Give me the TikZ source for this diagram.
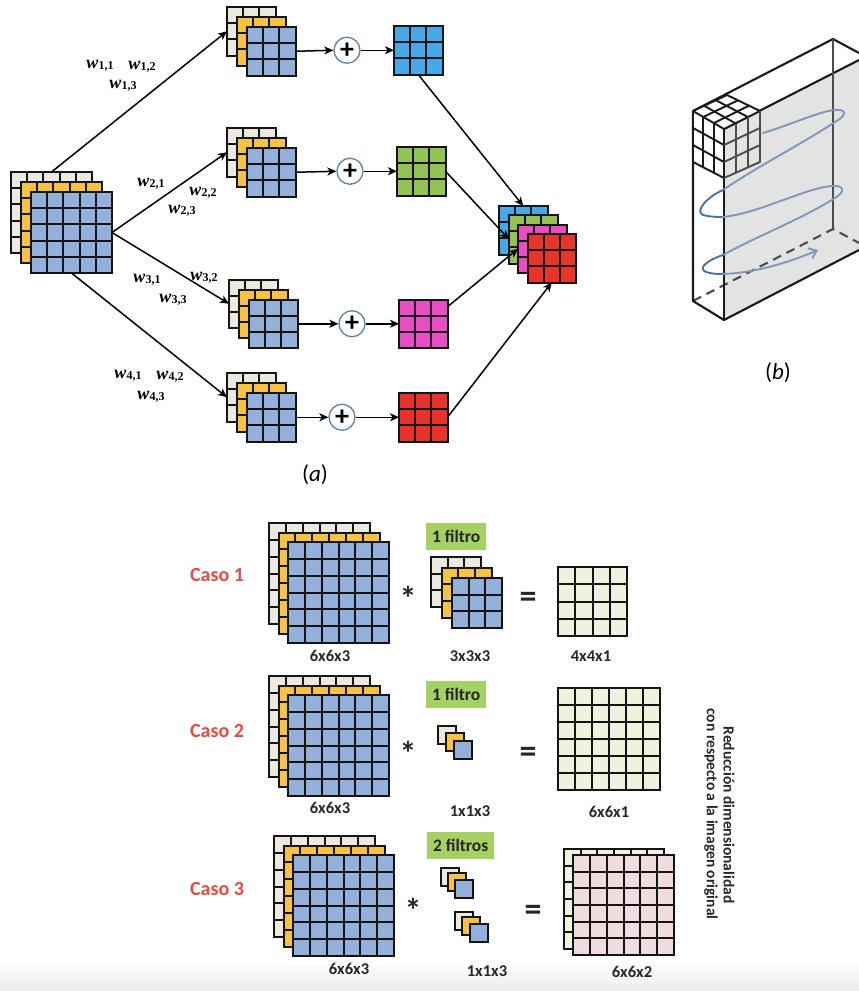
\documentclass[tikz,border=0pt]{standalone}
\usepackage{fontspec}
\setmainfont{Carlito}
\newfontfamily\timesf{Liberation Serif}
\usetikzlibrary{arrows.meta}
\definecolor{cgray}{HTML}{EBE9DF}
\definecolor{cyel}{HTML}{F5C242}
\definecolor{cblue}{HTML}{94AFD9}
\definecolor{cbluer}{HTML}{46A8E6}
\definecolor{cgreenr}{HTML}{93C353}
\definecolor{cmag}{HTML}{E94DC3}
\definecolor{cred}{HTML}{E8332A}
\definecolor{cpale}{HTML}{EEF2DF}
\definecolor{cpink}{HTML}{F0DCDF}
\definecolor{cbadge}{HTML}{A5D164}
\definecolor{ccaso}{HTML}{EA4A3F}
\definecolor{cspiral}{HTML}{7F97B8}
\definecolor{cspirald}{HTML}{4F719F}
\definecolor{cring}{HTML}{5F80AE}
\tikzset{
  gridbox/.style={draw=black!92,line width=2pt,inner sep=0pt,outer sep=0pt,anchor=north west},
  gridline/.style={draw=black!92,line width=2pt},
  arr/.style={-{Stealth[length=9pt,width=8pt,inset=2.5pt]},line width=1.5pt,black},
  plusnode/.style={circle,draw=cring,line width=1.3pt,fill=white,minimum size=26pt,inner sep=0pt,font=\fontsize{28}{28}\selectfont\bfseries},
  wlabel/.style={inner sep=0pt,anchor=center},
  casolabel/.style={text=ccaso,font=\fontsize{20}{20}\selectfont\bfseries,inner sep=0pt},
  dimlabel/.style={font=\fontsize{16.5}{16.5}\selectfont\bfseries,text=black!85,inner sep=0pt},
  rotlabel/.style={font=\fontsize{15.5}{15.5}\selectfont\bfseries,text=black!85,inner sep=0pt,rotate=-90},
  badge/.style={fill=cbadge,inner sep=0pt,font=\fontsize{17.5}{17.5}\selectfont\bfseries,text=black!85,anchor=north west},
  oplabel/.style={font=\fontsize{34}{34}\selectfont\bfseries,text=black!85,inner sep=0pt},
  panellabel/.style={font=\fontsize{23}{23}\selectfont,inner sep=0pt},
  edge3d/.style={line width=2.1pt,black!90,line join=round},
  cubeedge/.style={line width=1.9pt,black!90,line join=round},
  cubeside/.style={line width=1.9pt,black!70,line join=round},
  spiral/.style={line width=1.9pt,cspiral,line cap=round},
  spirald/.style={line width=1.9pt,cspirald,line cap=round},
}
% name x y w h n fill
\newcommand{\gridb}[7]{%
  \node[gridbox,fill=#7,minimum width=#4pt,minimum height=#5pt] (#1) at (#2,#3) {};
  \pgfmathtruncatemacro{\nm}{#6-1}
  \foreach \k in {1,...,\nm}{
    \draw[gridline] ({#2+#4*\k/#6},#3) -- ({#2+#4*\k/#6},{#3+#5});
    \draw[gridline] (#2,{#3+#5*\k/#6}) -- ({#2+#4},{#3+#5*\k/#6});
  }
}
% name x y step size n : gray, yellow, blue layers
\newcommand{\stackc}[6]{%
  \gridb{#1a}{#2}{#3}{#5}{#5}{#6}{cgray}
  \gridb{#1b}{#2+#4}{#3+#4}{#5}{#5}{#6}{cyel}
  \gridb{#1c}{#2+2*#4}{#3+2*#4}{#5}{#5}{#6}{cblue}
}
\newcommand{\wl}[1]{{\timesf{\fontsize{18}{18}\selectfont\bfseries\itshape w}{\fontsize{12}{12}\selectfont\bfseries\raisebox{-1pt}{#1}}}}
\begin{document}
\begin{tikzpicture}[x=1pt,y=-1pt]
\useasboundingbox (0,0) rectangle (859,991);
\shade[top color=white,bottom color=black!7] (0,958) rectangle (859,991);
% ---- panel a
\stackc{big}{11}{172}{10}{81}{5}
\stackc{ga}{227}{7}{10}{48.5}{3}
\stackc{gb}{227}{128}{10}{48.5}{3}
\stackc{gc}{229}{279.5}{10}{48.5}{3}
\stackc{gd}{227}{373}{10}{48.5}{3}
\node[plusnode] (pa) at (347,50.25) {+};
\node[plusnode] (pb) at (350,171.25) {+};
\node[plusnode] (pc) at (352,323.75) {+};
\node[plusnode] (pd) at (342,417.25) {+};
\gridb{ra}{394}{26}{48.5}{48.5}{3}{cbluer}
\gridb{rb}{397}{147}{48.5}{48.5}{3}{cgreenr}
\gridb{rc}{399}{299.5}{48.5}{48.5}{3}{cmag}
\gridb{rd}{399}{393}{48.5}{48.5}{3}{cred}
\gridb{sa}{499}{206}{48.5}{48.5}{3}{cbluer}
\gridb{sb}{509}{215}{48.5}{48.5}{3}{cgreenr}
\gridb{sc}{518}{224.5}{48.5}{48.5}{3}{cmag}
\gridb{sd}{527.5}{234}{48.5}{48.5}{3}{cred}
\draw[arr] (biga.north) -- (gaa.west);
\draw[arr] (bigc.east) -- (gba.west);
\draw[arr] (bigc.east) -- (gca.west);
\draw[arr] (bigc.south) -- (gda.west);
\draw[arr] (gac.east) -- (pa.west);
\draw[arr] (gbc.east) -- (pb.west);
\draw[arr] (gcc.east) -- (pc.west);
\draw[arr] (gdc.east) -- (pd.west);
\draw[arr] (pa.east) -- (ra.west);
\draw[arr] (pb.east) -- (rb.west);
\draw[arr] (pc.east) -- (rc.west);
\draw[arr] (pd.east) -- (rd.west);
\draw[arr] (ra.south) -- (sa.north);
\draw[arr] (rb.east) -- (sb.west);
\draw[arr] (rc.35) -- (sc.west);
\draw[arr] (rd.east) -- (sd.south);
\node[wlabel] (w11) at (100,66) {\wl{1,1}};
\node[wlabel] (w12) at (142,67) {\wl{1,2}};
\node[wlabel] (w13) at (123,86) {\wl{1,3}};
\node[wlabel] (w21) at (151,184) {\wl{2,1}};
\node[wlabel] (w22) at (203,193) {\wl{2,2}};
\node[wlabel] (w23) at (182,211) {\wl{2,3}};
\node[wlabel] (w31) at (147,280) {\wl{3,1}};
\node[wlabel] (w32) at (204,278) {\wl{3,2}};
\node[wlabel] (w33) at (173,300) {\wl{3,3}};
\node[wlabel] (w41) at (128,376) {\wl{4,1}};
\node[wlabel] (w42) at (170,377) {\wl{4,2}};
\node[wlabel] (w43) at (151,397) {\wl{4,3}};
\node[panellabel] (la) at (315,475) {(\textit{a})};
\node[panellabel] (lb) at (778,373) {(\textit{b})};
% ---- panel b
\fill[black!11] (724,129) -- (859,60) -- (859,250) -- (724,320) -- cycle;
\draw[edge3d] (693,111) -- (833,39) -- (859,53);
\draw[edge3d] (724,129) -- (859,60);
\draw[edge3d,black!70] (833,39) -- (833,229);
\draw[edge3d,black!70,dash pattern=on 9pt off 6pt] (693,301) -- (833,229) -- (859,243);
\draw[edge3d] (693,111) -- (693,301) -- (724,320) -- (859,250);
\draw[edge3d] (724,129) -- (724,320);
% spiral
\draw[spiral] (763,133) .. controls (790,125) and (820,111) .. (835,110) .. controls (848,109) and (846,116) .. (835,122) .. controls (800,145) and (755,168) .. (723,190);
\draw[spirald] (723,190) .. controls (705,198) and (695,212) .. (703,215) .. controls (710,217) and (718,217) .. (723,217);
\draw[spiral] (723,217) .. controls (760,213) and (805,188) .. (832,186) .. controls (845,185) and (845,192) .. (835,198) .. controls (800,220) and (755,237) .. (723,255);
\draw[spirald] (723,255) .. controls (708,260) and (697,268) .. (706,272) .. controls (712,274) and (718,274) .. (723,274);
\draw[spiral,-{Straight Barb[length=7pt,width=11pt]}] (723,274) .. controls (755,273) and (790,262) .. (818,250);
% cube on top
\fill[white] (693,111) -- (727,95) -- (760,111) -- (724,129) -- cycle;
\fill[white] (693,111) -- (724,129) -- (724,178) -- (693,162) -- cycle;
\draw[cubeedge] (693,111) -- (727,95) -- (760,111) -- (724,129) -- cycle;
\draw[cubeedge] (704,105.7) -- (736,123.6) (716,100.3) -- (748,117);
\draw[cubeedge] (703.3,117) -- (738,100.3) (714,123) -- (749,105.7);
\draw[cubeedge] (693,111) -- (693,162) -- (724,178) -- (724,129);
\draw[cubeedge] (703.3,117) -- (703.3,167) (714,123) -- (714,173);
\draw[cubeedge] (693,128) -- (724,145) (693,145) -- (724,162);
\draw[cubeside] (760,111) -- (760,162) -- (724,178);
\draw[cubeside] (736,123.6) -- (736,172.5) (748,117) -- (748,167.5);
\draw[cubeside] (724,145) -- (760,128) (724,162) -- (760,145);
% ---- lower panel
\node[casolabel] (c1) at (217,575) {Caso 1};
\node[casolabel] (c2) at (217,731) {Caso 2};
\node[casolabel] (c3) at (217,889) {Caso 3};
\stackc{ia}{269}{523}{9.5}{101}{6}
\stackc{ib}{269}{676}{9.5}{101}{6}
\stackc{ic}{274}{836}{9.5}{101}{6}
\node[badge,minimum width=60pt,minimum height=27pt] (fa) at (426,523) {1 filtro};
\node[badge,minimum width=60pt,minimum height=27pt] (fb) at (426,681) {1 filtro};
\node[badge,minimum width=67pt,minimum height=27pt] (fc) at (427,832) {2 filtros};
\stackc{ka}{431}{557}{10.5}{50}{3}
\node[gridbox,fill=cgray,minimum size=18pt] (m1) at (438,726) {};
\node[gridbox,fill=cyel,minimum size=18pt] (m2) at (446,733) {};
\node[gridbox,fill=cblue,minimum size=18pt] (m3) at (454,741) {};
\node[gridbox,fill=cgray,minimum size=18pt] (n1) at (441,868) {};
\node[gridbox,fill=cyel,minimum size=18pt] (n2) at (448,873) {};
\node[gridbox,fill=cblue,minimum size=18pt] (n3) at (455,880) {};
\node[gridbox,fill=cgray,minimum size=18pt] (q1) at (455,912) {};
\node[gridbox,fill=cyel,minimum size=18pt] (q2) at (462,917) {};
\node[gridbox,fill=cblue,minimum size=18pt] (q3) at (470,924) {};
\node[oplabel] (s1) at (408,598) {*};
\node[oplabel] (s2) at (408,753) {*};
\node[oplabel] (s3) at (413,910) {*};
\node[oplabel] (e1) at (528,600) {=};
\node[oplabel] (e2) at (528,755) {=};
\node[oplabel] (e3) at (533,913) {=};
\gridb{oa}{558}{567}{69}{69}{4}{cpale}
\gridb{ob}{558}{688}{102}{102}{6}{cpale}
\gridb{oc}{564}{849}{100}{100}{6}{cpale}
\gridb{od}{573}{855}{101}{100}{6}{cpink}
\node[dimlabel] (d1) at (330,656) {6x6x3};
\node[dimlabel] (d2) at (470,656) {3x3x3};
\node[dimlabel] (d3) at (591,656) {4x4x1};
\node[dimlabel] (d4) at (330,808) {6x6x3};
\node[dimlabel] (d5) at (470,811) {1x1x3};
\node[dimlabel] (d6) at (609,812) {6x6x1};
\node[dimlabel] (d7) at (349,969) {6x6x3};
\node[dimlabel] (d8) at (487,971) {1x1x3};
\node[dimlabel] (d9) at (632,972) {6x6x2};
\node[rotlabel] (r1) at (729,815) {Reducción dimensionalidad};
\node[rotlabel] (r2) at (711,814) {con respecto a la imagen original};
\end{tikzpicture}
\end{document}
